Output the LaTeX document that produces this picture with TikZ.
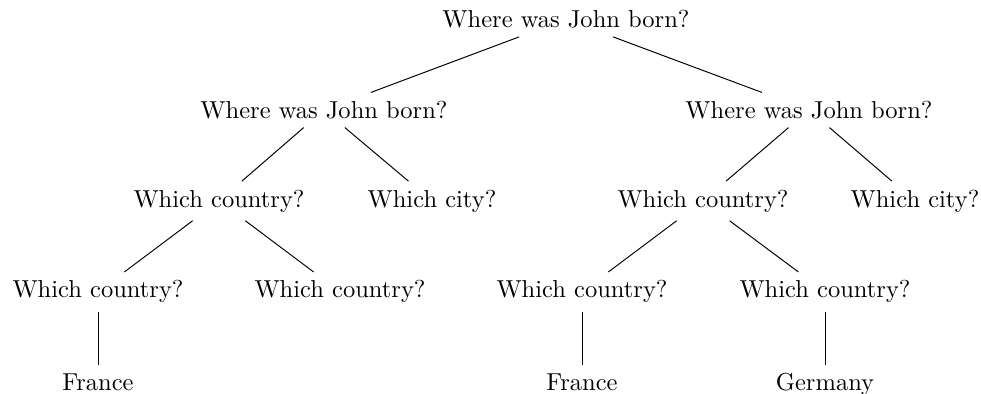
\documentclass[tikz,border=0pt]{standalone}
\begin{document}
\begin{tikzpicture}[x=0.408pt,y=-0.408pt,
  lbl/.style={anchor=base},
  edge/.style={draw,line width=0.4pt}]
\useasboundingbox (0,0) rectangle (981,394);
\def\ya{27.7}\def\yb{118.4}\def\yc{207.1}\def\yd{297.9}\def\ye{390.6}
\node[lbl] (r)   at (566,\ya) {Where was John born?};
\node[lbl] (l)   at (324,\yb) {Where was John born?};
\node[lbl] (rr)  at (809,\yb) {Where was John born?};
\node[lbl] (lc)  at (219,\yc) {Which country?};
\node[lbl] (lci) at (432,\yc) {Which city?};
\node[lbl] (rc)  at (703,\yc) {Which country?};
\node[lbl] (rci) at (915,\yc) {Which city?};
\node[lbl] (lc1) at (98,\yd) {Which country?};
\node[lbl] (lc2) at (340,\yd) {Which country?};
\node[lbl] (rc1) at (582,\yd) {Which country?};
\node[lbl] (rc2) at (825,\yd) {Which country?};
\node[lbl] (f1)  at (98,\ye) {France};
\node[lbl] (f2)  at (582,\ye) {France};
\node[lbl] (g)   at (825,\ye) {Germany};
\path[edge] (r) -- (l);
\path[edge] (r) -- (rr);
\path[edge] (l) -- (lc);
\path[edge] (l) -- (lci);
\path[edge] (rr) -- (rc);
\path[edge] (rr) -- (rci);
\path[edge] (lc) -- (lc1);
\path[edge] (lc) -- (lc2);
\path[edge] (rc) -- (rc1);
\path[edge] (rc) -- (rc2);
\path[edge] (lc1) -- (f1);
\path[edge] (rc1) -- (f2);
\path[edge] (rc2) -- (g);
\end{tikzpicture}
\end{document}
